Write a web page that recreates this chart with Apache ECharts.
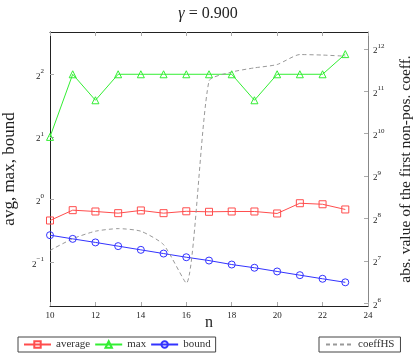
<!DOCTYPE html>
<html>
<head>
<meta charset="utf-8">
<script src="https://cdn.jsdelivr.net/npm/echarts@6/dist/echarts.min.js"></script>
<style>html,body{margin:0;padding:0;background:#fff}#c{width:416px;height:355px}</style>
</head>
<body>
<div id="c"></div>
<script>
var n = [10, 11, 12, 13, 14, 15, 16, 17, 18, 19, 20, 21, 22, 23];
var average = [0.793, 0.889, 0.876, 0.860, 0.886, 0.860, 0.878, 0.873, 0.876, 0.876, 0.857, 0.960, 0.949, 0.896];
var maxv = [2, 4, 3, 4, 4, 4, 4, 4, 4, 3, 4, 4, 4, 5];
var bound = [0.674, 0.647, 0.622, 0.597, 0.573, 0.550, 0.528, 0.509, 0.487, 0.470, 0.451, 0.433, 0.416, 0.400];
var coeffHS = [152, 184, 208, 217, 208, 167, 89, 2424, 2808, 3007, 3175, 3738, 3707, 3640];
var xTicks = [10, 12, 14, 16, 18, 20, 22, 24];
var leftTicks = [0.5, 1, 2, 4];
var rightTicks = [64, 128, 256, 512, 1024, 2048, 4096];

var FONT = '"Liberation Serif", "DejaVu Serif", serif';
function pairs(ys) { return n.map(function (x, i) { return [x, ys[i]]; }); }
function powLabel(v) {
  var e = Math.round(Math.log(v) / Math.log(2));
  return '{b|2}{s|' + String(e).replace('-', '\u2212') + '}';
}
var richPow = {
  b: { fontSize: 9, fontFamily: FONT, color: '#222', lineHeight: 13, verticalAlign: 'bottom' },
  s: { fontSize: 7, fontFamily: FONT, color: '#222', lineHeight: 13, verticalAlign: 'top' }
};
var tickStyle = { show: true, inside: true, length: 4, lineStyle: { color: '#aaa', width: 1 } };

var chart = echarts.init(document.getElementById('c'), null, { renderer: 'canvas' });
chart.setOption({
  animation: false,
  backgroundColor: '#fff',
  title: {
    text: '{g|\u03b3} = 0.900',
    left: 'center', top: 1,
    textStyle: {
      fontFamily: FONT, fontSize: 16, fontWeight: 'normal', color: '#222',
      rich: { g: { fontFamily: FONT, fontSize: 16, fontStyle: 'italic', color: '#222' } }
    }
  },
  grid: { left: 50, right: 48, top: 32, bottom: 49, containLabel: false, outerBoundsMode: 'none' },
  legend: [
    {
      left: 18, top: 337,
      data: ['average', 'max', 'bound'],
      borderColor: '#444', borderWidth: 1, borderRadius: 0,
      padding: [2, 5], itemWidth: 27, itemHeight: 8, itemGap: 4,
      textStyle: { fontFamily: FONT, fontSize: 11, color: '#333' }
    },
    {
      left: 319, top: 337,
      data: ['coeffHS'],
      borderColor: '#444', borderWidth: 1, borderRadius: 0,
      padding: [2, 6], itemWidth: 27, itemHeight: 8,
      itemStyle: { color: 'rgba(0,0,0,0)', borderColor: 'rgba(0,0,0,0)', borderWidth: 0 },
      textStyle: { fontFamily: FONT, fontSize: 11, color: '#333' }
    }
  ],
  xAxis: [
    {
      type: 'value', position: 'bottom', min: 10, max: 24, interval: 2,
      name: 'n', nameLocation: 'middle', nameGap: 9, nameMoveOverlap: false,
      nameTextStyle: { fontFamily: FONT, fontSize: 16, color: '#222' },
      axisLine: { show: true, lineStyle: { color: '#222', width: 1 } },
      axisTick: tickStyle,
      axisLabel: { fontFamily: FONT, fontSize: 9, color: '#222', margin: 5, customValues: xTicks },
      splitLine: { show: false }
    },
    {
      type: 'value', position: 'top', min: 10, max: 24, interval: 2,
      axisLine: { show: true, lineStyle: { color: '#222', width: 1 } },
      axisTick: tickStyle,
      axisLabel: { show: false },
      splitLine: { show: false }
    }
  ],
  yAxis: [
    {
      type: 'log', logBase: 2, position: 'left',
      min: Math.pow(2, -1.70), max: Math.pow(2, 2.675),
      name: 'avg, max, bound', nameLocation: 'middle', nameRotate: 90, nameGap: 32, nameMoveOverlap: false,
      nameTextStyle: { fontFamily: FONT, fontSize: 17, color: '#222' },
      axisLine: { show: true, lineStyle: { color: '#222', width: 1 } },
      axisTick: Object.assign({}, tickStyle, { customValues: leftTicks }),
      axisLabel: { margin: 6, formatter: powLabel, rich: richPow, customValues: leftTicks },
      splitLine: { show: false }, minorTick: { show: false }
    },
    {
      type: 'log', logBase: 2, position: 'right',
      min: Math.pow(2, 5.936), max: Math.pow(2, 12.40),
      name: 'abs. value of the first non-pos. coeff.', nameLocation: 'middle', nameRotate: 90, nameGap: 30, nameMoveOverlap: false,
      nameTextStyle: { fontFamily: FONT, fontSize: 15.5, color: '#222' },
      axisLine: { show: true, lineStyle: { color: '#888', width: 1 } },
      axisTick: Object.assign({}, tickStyle, { customValues: rightTicks }),
      axisLabel: { margin: 5, formatter: powLabel, rich: richPow, customValues: rightTicks },
      splitLine: { show: false }, minorTick: { show: false }
    }
  ],
  series: [
    {
      name: 'average', type: 'line', xAxisIndex: 0, yAxisIndex: 0, data: pairs(average),
      symbol: 'rect', symbolSize: 7,
      lineStyle: { color: '#ff4d4d', width: 1 },
      itemStyle: { color: 'rgba(255,255,255,0)', borderColor: '#ff4d4d', borderWidth: 1 }
    },
    {
      name: 'max', type: 'line', xAxisIndex: 0, yAxisIndex: 0, data: pairs(maxv),
      symbol: 'triangle', symbolSize: 7,
      lineStyle: { color: '#33ee33', width: 1 },
      itemStyle: { color: 'rgba(255,255,255,0)', borderColor: '#33ee33', borderWidth: 1 }
    },
    {
      name: 'bound', type: 'line', xAxisIndex: 0, yAxisIndex: 0, data: pairs(bound),
      symbol: 'circle', symbolSize: 7,
      lineStyle: { color: '#3333ff', width: 1 },
      itemStyle: { color: 'rgba(255,255,255,0)', borderColor: '#3333ff', borderWidth: 1 }
    },
    {
      name: 'coeffHS', type: 'line', xAxisIndex: 0, yAxisIndex: 1, data: pairs(coeffHS),
      symbol: 'none', smooth: 0.2,
      lineStyle: { color: '#999', width: 1, type: [4, 3] },
      itemStyle: { color: '#999' }
    }
  ]
});
</script>
</body>
</html>
